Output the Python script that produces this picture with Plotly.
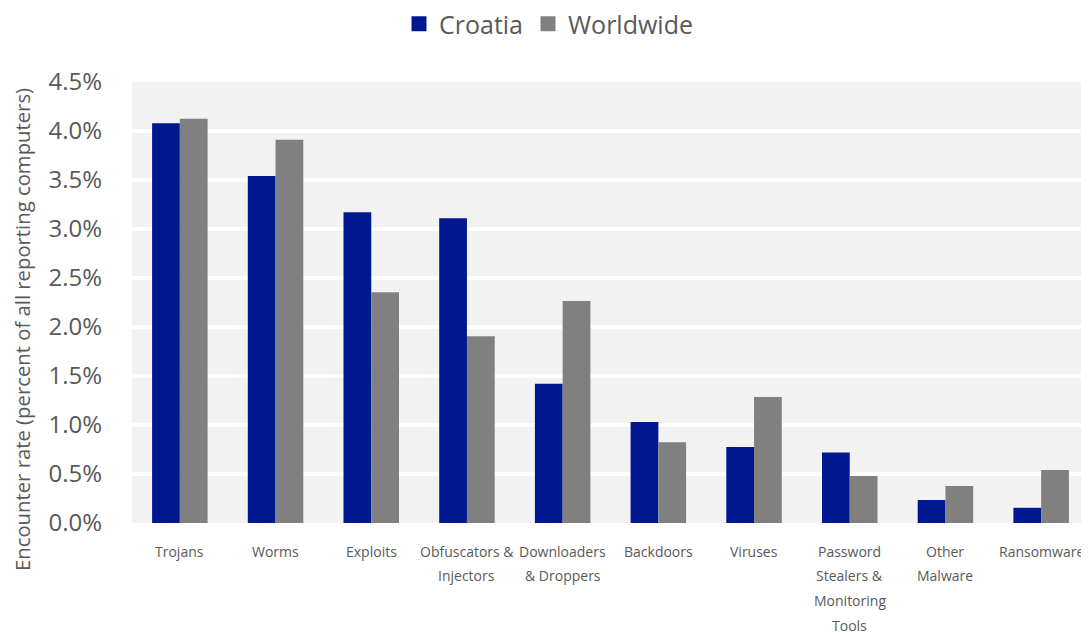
import plotly.graph_objects as go

categories = ["Trojans", "Worms", "Exploits", "Obfuscators &<br>Injectors",
              "Downloaders<br>& Droppers", "Backdoors", "Viruses",
              "Password<br>Stealers &<br>Monitoring<br>Tools", "Other<br>Malware", "Ransomware"]
croatia = [4.08, 3.54, 3.17, 3.11, 1.42, 1.03, 0.775, 0.72, 0.235, 0.155]
worldwide = [4.125, 3.91, 2.355, 1.905, 2.265, 0.825, 1.285, 0.48, 0.378, 0.54]
y_ticks = [0, 0.5, 1.0, 1.5, 2.0, 2.5, 3.0, 3.5, 4.0, 4.5]
y_labels = ["0.0%", "0.5%", "1.0%", "1.5%", "2.0%", "2.5%", "3.0%", "3.5%", "4.0%", "4.5%"]
y_title = "Encounter rate (percent of all reporting computers)"

C_CRO = "#00188F"
C_WW = "#808080"
TXT = "#595959"
font_family = "Open Sans, Noto Sans, sans-serif"

# page body has an 8px margin, so the figure is sized to fill the rest of the window
W, H = 1081, 626
ML, MR, MT, MB = 124, 0, 74, 111

fig = go.Figure()
fig.add_trace(go.Bar(name="Croatia", x=categories, y=croatia, marker_color=C_CRO,
                     marker_line_width=0, showlegend=False))
fig.add_trace(go.Bar(name="Worldwide", x=categories, y=worldwide, marker_color=C_WW,
                     marker_line_width=0, showlegend=False))
# legend entries with larger square symbols
for name, col in [("Croatia", C_CRO), ("Worldwide", C_WW)]:
    fig.add_trace(go.Scatter(name=name, x=[None], y=[None], mode="markers",
                             marker=dict(symbol="square", size=15, color=col),
                             showlegend=True))

# category labels, one annotation per line for wider line spacing
annotations = []
for cat in categories:
    for i, line in enumerate(cat.split("<br>")):
        annotations.append(dict(x=cat, y=0, xref="x", yref="paper", text=line,
                                showarrow=False, yanchor="middle", yshift=-(28 + i * 24.7),
                                font=dict(size=14, color=TXT, family=font_family)))
annotations.append(dict(x=(14 - ML) / (W - ML - MR), y=(H - 322 - MB) / (H - MT - MB),
                        xref="paper", yref="paper", text=y_title,
                        showarrow=False, textangle=-90, xanchor="center", yanchor="middle",
                        font=dict(size=20.3, color=TXT, family=font_family)))

fig.update_layout(
    width=W, height=H,
    barmode="group", bargap=0.42, bargroupgap=0,
    paper_bgcolor="white", plot_bgcolor="#f2f2f2",
    margin=dict(l=ML, r=MR, t=MT, b=MB),
    font=dict(family=font_family, color=TXT),
    legend=dict(orientation="h", x=0.5, xref="container", xanchor="center",
                y=1 - 16 / H, yref="container", yanchor="middle",
                font=dict(size=25, color=TXT), itemwidth=30, traceorder="normal"),
    annotations=annotations,
)

fig.update_xaxes(showgrid=False, showticklabels=False, ticks="", showline=False,
                 automargin=False)
fig.update_yaxes(range=[0, 4.5], tickvals=y_ticks, ticktext=y_labels,
                 showgrid=True, gridcolor="white", gridwidth=4, zeroline=False,
                 tickfont=dict(size=24, color=TXT), ticklabelstandoff=29,
                 automargin=False)
fig.write_html("out.html")
